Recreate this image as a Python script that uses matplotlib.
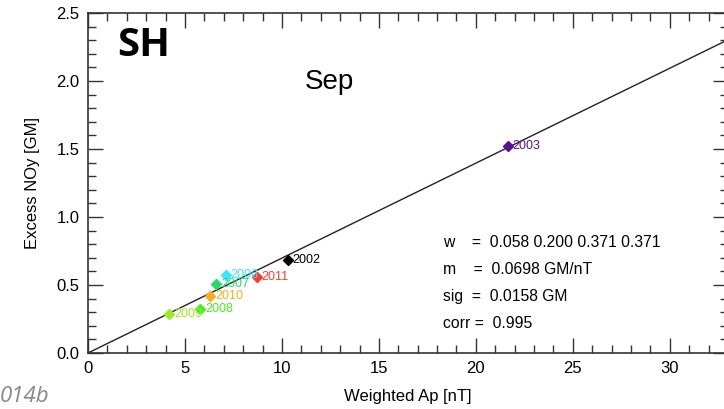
import matplotlib.pyplot as plt
from matplotlib.ticker import MultipleLocator

# 各年份的加权 Ap 与过量 NOy
YEARS = ['2003', '2002', '2011', '2006', '2007', '2010', '2008', '2009']
AP = [21.65, 10.3, 8.7, 7.1, 6.6, 6.3, 5.8, 4.2]
NOY = [1.52, 0.685, 0.56, 0.57, 0.505, 0.42, 0.325, 0.29]
COLORS = ['#5a1090', '#000000', '#ff3a2a', '#33e8ff', '#22dd66',
          '#ffaa22', '#44ee22', '#99ee22']
SLOPE = 0.0698
FIT_X = [0, 33]
STATS = ['w    =  0.058 0.200 0.371 0.371',
         'm    =  0.0698 GM/nT',
         'sig  =  0.0158 GM',
         'corr =  0.995']

plt.rcParams['font.family'] = ['Liberation Sans', 'DejaVu Sans']

fig = plt.figure(figsize=(7.24, 4.09), dpi=100)
ax = fig.add_axes([88 / 724, 56 / 409, 640 / 724, 340 / 409])

ax.plot(FIT_X, [SLOPE * x for x in FIT_X], color='#222222', lw=1.0)
for yr, x, y, c in zip(YEARS, AP, NOY, COLORS):
    ax.plot(x, y, marker='D', ms=5.5, color=c, ls='none')
    ax.annotate(yr, (x, y), xytext=(3.5, 0), textcoords='offset points',
                va='center', ha='left', fontsize=9, color=c)

ax.set_xlim(0, 33)
ax.set_ylim(0, 2.5)
ax.xaxis.set_major_locator(MultipleLocator(5))
ax.xaxis.set_minor_locator(MultipleLocator(1))
ax.yaxis.set_major_locator(MultipleLocator(0.5))
ax.yaxis.set_minor_locator(MultipleLocator(0.1))
ax.yaxis.set_major_formatter(lambda v, p: f'{v:.1f}')
ax.tick_params(which='both', direction='in', top=True, right=True,
               color='#333333', labelsize=12, width=1.0)
ax.tick_params(which='major', length=11, pad=6)
ax.tick_params(which='minor', length=5.5)
for s in ax.spines.values():
    s.set_color('#333333')
    s.set_linewidth(1.2)

ax.set_xlabel('Weighted Ap [nT]', fontsize=12, labelpad=9)
ax.set_ylabel('Excess NOy [GM]', fontsize=12, labelpad=12)

ax.text(1.5, 2.26, 'SH', fontsize=29, fontweight='bold', family='Open Sans',
        va='center', ha='left')
ax.text(11.2, 1.99, 'Sep', fontsize=20, va='center', ha='left')

for i, line in enumerate(STATS):
    ax.text(18.3, 0.81 - i * 0.198, line, fontsize=11.3, va='center', ha='left')

fig.text(0.0, 0.03, '014b', fontsize=16, style='italic', color='#888888',
         family='Open Sans', ha='left', va='center')

fig.savefig('out.png', dpi=100)
